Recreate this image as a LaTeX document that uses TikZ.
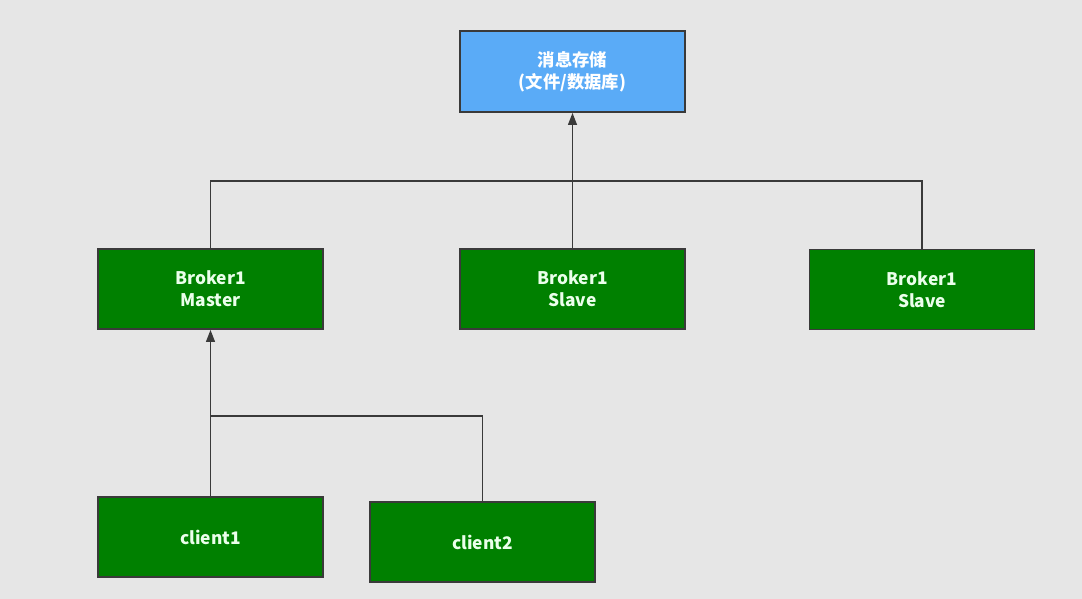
\documentclass[tikz,border=0pt]{standalone}
\usepackage{fontspec}
\setmainfont{Noto Sans CJK SC}
\usetikzlibrary{arrows.meta}
\definecolor{bggray}{HTML}{E6E6E6}
\definecolor{storeblue}{HTML}{5AABF7}
\definecolor{brokergreen}{HTML}{008000}
\definecolor{edgegray}{HTML}{3A3A3A}
\tikzset{box/.style = {
    draw = edgegray,
    line width = 1.2pt,
    inner sep = 0pt,
    minimum width = 168.75pt,
    minimum height = 60pt,
    align = center,
    font = \bfseries\fontsize{13}{16.5}\selectfont,
    text = white!92!green
}}
\tikzset{storebox/.style = {
    box,
    fill = storeblue,
    minimum height = 60.75pt,
    text = white
}}
\tikzset{brokerbox/.style = {
    box,
    fill = brokergreen
}}
\tikzset{link/.style = {
    draw = edgegray,
    line width = 1.4pt
}}

\begin{document}
\begin{tikzpicture}[x = 0.75pt, y = -0.75pt]
    \fill [bggray] (0, 0) rectangle (1082, 599);
    \useasboundingbox (0, 0) rectangle (1082, 599);

    % Boxes
    \node [storebox] (store) at (572.5, 71.5) {消息存储\\(文件/数据库)};
    \node [brokerbox] (master) at (210.5, 289) {Broker1\\Master};
    \node [brokerbox] (slaveA) at (572.5, 289) {Broker1\\Slave};
    \node [brokerbox] (slaveB) at (922, 289.5) {Broker1\\Slave};
    \node [brokerbox] (clientA) at (210.5, 537) {client1};
    \node [brokerbox] (clientB) at (482.5, 542) {client2};

    % Junctions
    \coordinate (brokerbus) at (210.5, 181);
    \coordinate (clientbus) at (210.5, 416);

    % Lines
    \draw
        [link] (master.north) -- (brokerbus) -| (slaveB.north)
    ;
    \draw
        [link, -{Triangle[length = 9pt, width = 6.5pt]}] (slaveA.north) -- (store.south)
    ;
    \draw
        [link, -{Triangle[length = 9pt, width = 6.5pt]}] (clientA.north) -- (master.south)
    ;
    \draw
        [link] (clientB.north) |- (clientbus)
    ;

\end{tikzpicture}
\end{document}
